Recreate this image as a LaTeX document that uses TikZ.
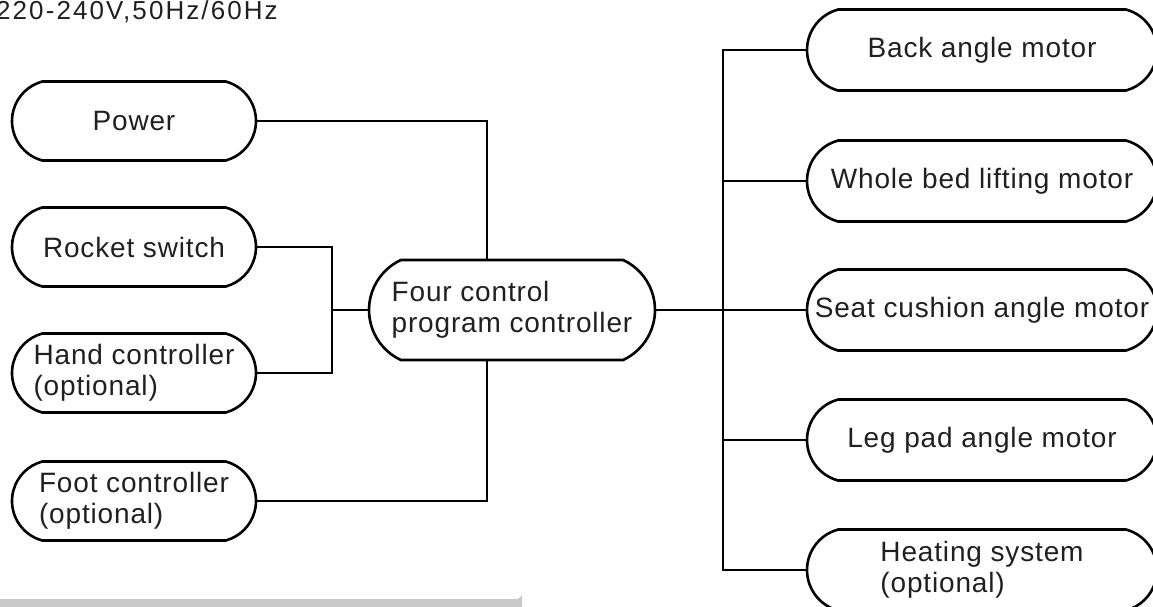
\documentclass[tikz,border=0pt]{standalone}
\usepackage{fontspec}
\setmainfont{Liberation Sans}
\usetikzlibrary{shapes.misc}
\definecolor{ink}{HTML}{231F20}
\begin{document}
\begin{tikzpicture}[x=1pt,y=-1pt,
  box/.style={rounded rectangle, rounded rectangle arc length=150, draw=black, line width=2.6pt,
    minimum height=79pt, inner sep=0pt, text=ink,
    font=\fontsize{28}{31}\selectfont\addfontfeature{LetterSpace=3}, align=left},
  lbox/.style={box, minimum width=244pt},
  rbox/.style={box, minimum width=350pt, minimum height=81pt},
  wire/.style={line width=2pt, draw=black}]
\useasboundingbox (0,0) rectangle (1153,607);
% header
\node[anchor=base west, inner sep=0pt, text=ink,
  font=\fontsize{26}{29}\selectfont\addfontfeature{LetterSpace=8}] (hdr) at (-4,19.5) {220-240V,50Hz/60Hz};
% bottom bar
\fill[black!21] (0,599) -- (516,599) arc[start angle=90, end angle=0, radius=6] -- (522,610) -- (0,610) -- cycle;
% left boxes
\node[lbox] (power) at (134,121) {Power};
\node[lbox] (rocket) at (134,247) {Rocket switch};
\node[lbox] (hand) at (134,373) {Hand controller\\(optional)};
\node[lbox] (foot) at (134,501) {Foot controller\\(optional)};
% controller
\node[box, rounded rectangle arc length=130, minimum width=286pt, minimum height=100pt] (ctrl) at (512,310) {Four control\\program controller};
% right boxes
\node[rbox] (m1) at (982,50) {Back angle motor};
\node[rbox] (m2) at (982,181) {Whole bed lifting motor};
\node[rbox] (m3) at (982,310) {Seat cushion angle motor};
\node[rbox] (m4) at (982,440) {Leg pad angle motor};
\node[rbox] (m5) at (982,570) {Heating system\\(optional)};
% buses
\coordinate (lbus) at (332,310);
\coordinate (rbus) at (723,310);
\draw[wire] (power.east) -| ([xshift=-25pt]ctrl.north);
\draw[wire] (foot.east) -| ([xshift=-25pt]ctrl.south);
\draw[wire] (rocket.east) -| (lbus) |- (hand.east);
\draw[wire] (lbus) -- (ctrl.west);
\draw[wire] (ctrl.east) -- (rbus);
\foreach \m in {m1,m2,m3,m4,m5} \draw[wire] (rbus) |- (\m.west);
\end{tikzpicture}
\end{document}
